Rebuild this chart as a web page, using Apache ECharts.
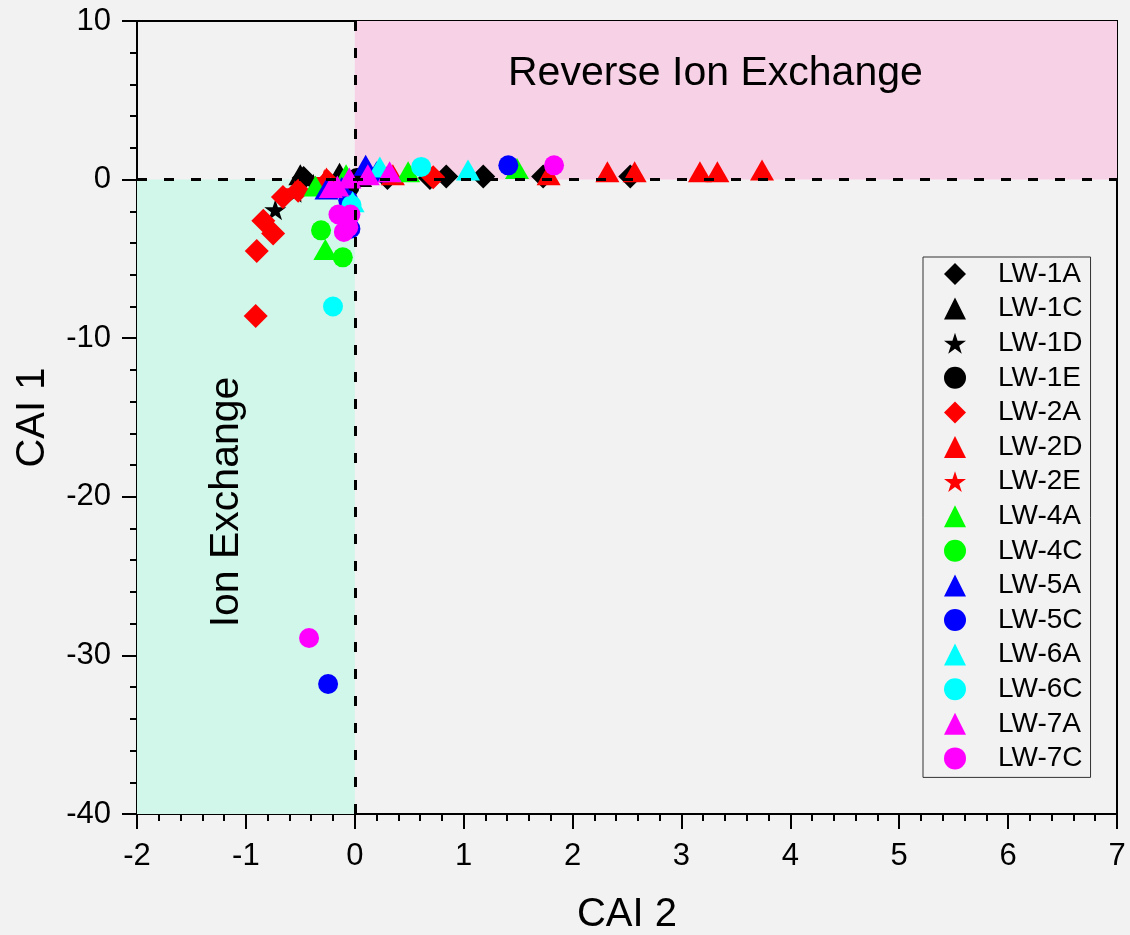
<!DOCTYPE html>
<html>
<head>
<meta charset="utf-8">
<script src="https://cdn.jsdelivr.net/npm/echarts@6/dist/echarts.min.js"></script>
<style>
  html, body { margin: 0; padding: 0; background: #f2f2f2; }
  #chart { width: 1130px; height: 935px; }
</style>
</head>
<body>
<div id="chart"></div>
<script>
// Chloro-alkaline indices: each point is [CAI 2, CAI 1]
const LW_1A = [[-0.47, 0.1], [0.30, 0.1], [0.69, 0.1], [0.84, 0.2], [1.18, 0.2], [1.73, 0.2], [2.53, 0.2]];
const LW_1C = [[-0.50, 0.3], [-0.14, 0.4], [0.05, 0.2]];
const LW_1D = [[-0.73, -1.9], [-0.55, -0.8], [-0.38, -0.3]];
const LW_1E = [[-0.05, -0.5], [0.02, 0.1]];
const LW_2A = [[-0.91, -8.6], [-0.90, -4.5], [-0.84, -2.6], [-0.75, -3.4], [-0.66, -1.1], [-0.52, -0.7], [-0.25, -0.1], [0.72, 0.15]];
const LW_2D = [[-0.26, 0.1], [0.35, 0.3], [1.78, 0.3], [2.32, 0.5], [2.57, 0.5], [3.17, 0.5], [3.33, 0.5], [3.74, 0.6]];
const LW_2E = [[-0.55, -0.7], [-0.28, 0.0]];
const LW_4A = [[-0.36, -0.4], [-0.27, -4.4], [-0.08, 0.3], [0.49, 0.5], [1.49, 0.7]];
const LW_4C = [[-0.31, -3.2], [-0.11, -4.9]];
const LW_5A = [[-0.26, -0.6], [-0.12, -0.5], [0.10, 0.9], [0.20, 0.5]];
const LW_5C = [[-0.245, -31.8], [-0.04, -3.1], [-0.06, -1.3], [1.41, 0.9]];
const LW_6A = [[-0.02, -1.4], [0.23, 0.8], [1.04, 0.6]];
const LW_6C = [[-0.20, -8.0], [-0.03, -1.6], [0.61, 0.8]];
const LW_7A = [[-0.22, -0.5], [-0.16, -0.4], [-0.05, 0.1], [0.12, 0.3], [0.32, 0.5]];
const LW_7C = [[-0.42, -28.9], [-0.15, -2.2], [-0.04, -2.2], [-0.10, -3.3], [-0.06, -3.0], [1.83, 0.9]];

const seriesNames = ['LW-1A', 'LW-1C', 'LW-1D', 'LW-1E', 'LW-2A', 'LW-2D', 'LW-2E', 'LW-4A',
                     'LW-4C', 'LW-5A', 'LW-5C', 'LW-6A', 'LW-6C', 'LW-7A', 'LW-7C'];
const seriesData = [LW_1A, LW_1C, LW_1D, LW_1E, LW_2A, LW_2D, LW_2E, LW_4A,
                    LW_4C, LW_5A, LW_5C, LW_6A, LW_6C, LW_7A, LW_7C];

// Axis ranges and region bounds
const xRange = [-2, 7];
const yRange = [-40, 10];
const ionExchangeBox = [[-2, -40], [0, 0]];
const reverseBox = [[0, 0], [7, 10]];

const FONT = 'Liberation Sans, Arial, sans-serif';
const STAR = 'path://M50,0 L61.2,34.5 L97.6,34.5 L68.2,55.9 L79.4,90.5 L50,69.1 L20.6,90.5 L31.8,55.9 L2.4,34.5 L38.8,34.5 Z';
const shapeFor = {
  A: { symbol: 'diamond', size: [24, 24] },
  C: { symbol: 'triangle', size: [24, 21] },
  D: { symbol: STAR, size: [22, 21] },
  E: { symbol: 'circle', size: [20, 20] }
};
const styleOf = {
  'LW-1A': ['#000000', 'A'], 'LW-1C': ['#000000', 'C'], 'LW-1D': ['#000000', 'D'], 'LW-1E': ['#000000', 'E'],
  'LW-2A': ['#ff0000', 'A'], 'LW-2D': ['#ff0000', 'C'], 'LW-2E': ['#ff0000', 'D'],
  'LW-4A': ['#00ff00', 'C'], 'LW-4C': ['#00ff00', 'E'],
  'LW-5A': ['#0000ff', 'C'], 'LW-5C': ['#0000ff', 'E'],
  'LW-6A': ['#00ffff', 'C'], 'LW-6C': ['#00ffff', 'E'],
  'LW-7A': ['#ff00ff', 'C'], 'LW-7C': ['#ff00ff', 'E']
};

const chart = echarts.init(document.getElementById('chart'));

const scatterSeries = seriesNames.map((name, i) => {
  const [color, kind] = styleOf[name];
  const shp = shapeFor[kind];
  return {
    name: name,
    type: 'scatter',
    data: seriesData[i],
    symbol: shp.symbol,
    symbolSize: shp.size,
    itemStyle: { color: color, opacity: 1 },
    z: 3,
    emphasis: { disabled: true }
  };
});

// Shaded regions and the zero reference lines
const backdrop = {
  name: 'regions',
  type: 'scatter',
  data: [],
  silent: true,
  z: 1,
  markArea: {
    silent: true,
    data: [
      [{ coord: ionExchangeBox[0], itemStyle: { color: '#d0f7ea' } }, { coord: ionExchangeBox[1] }],
      [{ coord: reverseBox[0], itemStyle: { color: '#f7d1e6' } }, { coord: reverseBox[1] }]
    ]
  },
  markLine: {
    silent: true,
    symbol: ['none', 'none'],
    label: { show: false },
    lineStyle: { color: '#000', width: 3, type: [10, 17] },
    data: [{ xAxis: 0 }, { yAxis: 0 }]
  }
};

const axisCommon = {
  type: 'value',
  axisLine: { show: true, onZero: false, lineStyle: { color: '#000', width: 2 } },
  axisTick: { show: true, inside: false, length: 15, lineStyle: { color: '#000', width: 2 } },
  minorTick: { show: true, splitNumber: 5, length: 7, lineStyle: { color: '#000', width: 2 } },
  splitLine: { show: false },
  minorSplitLine: { show: false },
  axisLabel: { color: '#000', fontSize: 31, fontFamily: FONT },
  nameLocation: 'middle',
  nameTextStyle: { color: '#000', fontSize: 40, fontFamily: FONT }
};

chart.setOption({
  backgroundColor: '#f2f2f2',
  animation: false,
  grid: {
    left: 137, right: 13, top: 21, bottom: 121,
    outerBoundsMode: 'none',
    show: true, borderColor: '#000', borderWidth: 2, backgroundColor: 'transparent'
  },
  xAxis: Object.assign({}, axisCommon, {
    min: xRange[0], max: xRange[1], interval: 1,
    name: 'CAI 2', nameGap: 81,
    axisLabel: Object.assign({}, axisCommon.axisLabel, { margin: 27 })
  }),
  yAxis: Object.assign({}, axisCommon, {
    min: yRange[0], max: yRange[1], interval: 10,
    name: 'CAI 1', nameGap: 84,
    axisLabel: Object.assign({}, axisCommon.axisLabel, { margin: 26 })
  }),
  legend: {
    data: seriesNames,
    orient: 'vertical',
    left: 923, top: 257,
    padding: [3, 8, 5, 21],
    backgroundColor: '#f2f2f2',
    borderColor: '#333',
    borderWidth: 1,
    itemWidth: 22, itemHeight: 22, itemGap: 6.6,
    selectedMode: false,
    textStyle: { color: '#000', fontSize: 28, fontFamily: FONT, padding: [0, 0, 0, 27] }
  },
  graphic: [
    {
      type: 'text', left: 508, top: 53, z: 100, silent: true,
      style: { text: 'Reverse Ion Exchange', fill: '#000', fontSize: 41, fontFamily: FONT }
    },
    {
      type: 'text', x: 227, y: 502, z: 100, rotation: Math.PI / 2, silent: true,
      style: { text: 'Ion Exchange', fill: '#000', fontSize: 41, fontFamily: FONT,
               align: 'center', verticalAlign: 'middle' }
    }
  ],
  series: [backdrop].concat(scatterSeries)
});
</script>
</body>
</html>
